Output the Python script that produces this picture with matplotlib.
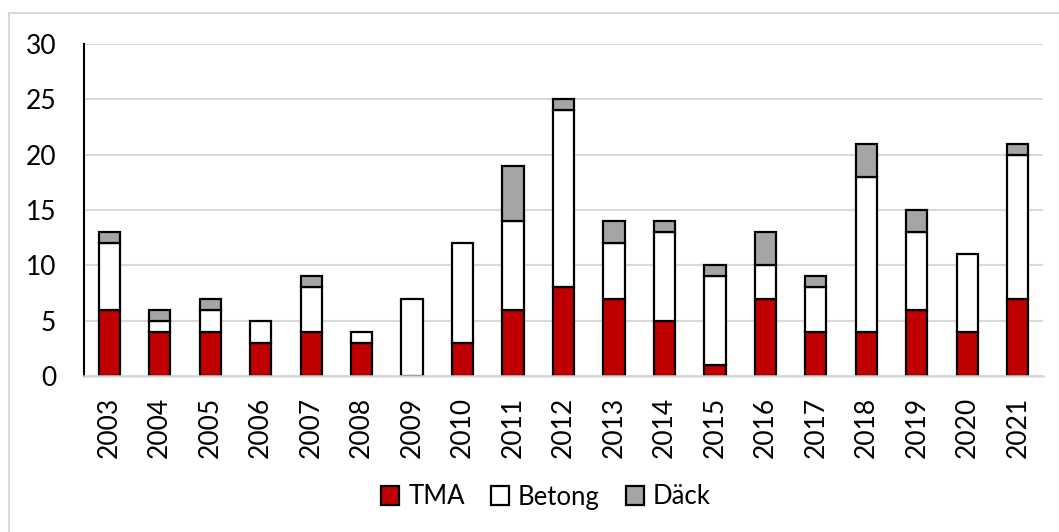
import matplotlib
matplotlib.use("Agg")
import matplotlib.pyplot as plt
from matplotlib.patches import Patch, Rectangle
import numpy as np

years = ["2003", "2004", "2005", "2006", "2007", "2008", "2009", "2010", "2011", "2012",
         "2013", "2014", "2015", "2016", "2017", "2018", "2019", "2020", "2021"]
tma = [6, 4, 4, 3, 4, 3, 0, 3, 6, 8, 7, 5, 1, 7, 4, 4, 6, 4, 7]
betong = [6, 1, 2, 2, 4, 1, 7, 9, 8, 16, 5, 8, 8, 3, 4, 14, 7, 7, 13]
dack = [1, 1, 1, 0, 1, 0, 0, 0, 5, 1, 2, 1, 1, 3, 1, 3, 2, 0, 1]
series_names = ["TMA", "Betong", "Däck"]
colors = ["#C00000", "#FFFFFF", "#A5A5A5"]

plt.rcParams["font.family"] = ["Lato", "DejaVu Sans"]

W, H = 1059, 532
fig = plt.figure(figsize=(W / 100, H / 100), dpi=100)
ax = fig.add_axes([84 / W, 1 - 376 / H, (1043 - 84) / W, (376 - 44) / H])

# chart frame
fig.patches.append(Rectangle((9 / W, -0.1), 1.2, 1 - 13 / H + 0.1,
                             transform=fig.transFigure, fill=False,
                             edgecolor="#D9D9D9", linewidth=1.5, zorder=0))

x = np.arange(len(years))
width = 0.42
bottom = np.zeros(len(years))
for name, vals, col in zip(series_names, [tma, betong, dack], colors):
    v = np.array(vals, dtype=float)
    nz = v > 0
    ax.bar(x[nz], v[nz], width, bottom=bottom[nz], color=col, edgecolor="black",
           linewidth=1.6, zorder=3, label=name)
    bottom += v

ax.set_xlim(-0.5, len(years) - 0.5)
ax.set_ylim(0, 30)
ax.set_yticks(range(0, 31, 5))
ax.set_xticks(x)
ax.set_xticklabels(years, rotation=90)
ax.yaxis.grid(True, color="#D9D9D9", linewidth=1.5, zorder=0)
ax.set_axisbelow(True)
for s in ["top", "right"]:
    ax.spines[s].set_visible(False)
ax.spines["left"].set_color("black")
ax.spines["left"].set_linewidth(1.5)
ax.spines["bottom"].set_color("#D9D9D9")
ax.spines["bottom"].set_linewidth(1.8)
ax.spines["bottom"].set_zorder(5)
ax.tick_params(axis="y", length=0, pad=20, labelsize=19)
ax.tick_params(axis="x", length=0, pad=15, labelsize=19)

handles = [Patch(facecolor=c, edgecolor="black", linewidth=1.6) for c in colors]
fig.legend(handles, series_names, loc="center", bbox_to_anchor=(546 / W, 1 - 497 / H),
           ncol=3, frameon=False, fontsize=18.5, handlelength=0.72, handleheight=0.72,
           handletextpad=0.35, columnspacing=1.0)

fig.savefig("out.png", dpi=100)
